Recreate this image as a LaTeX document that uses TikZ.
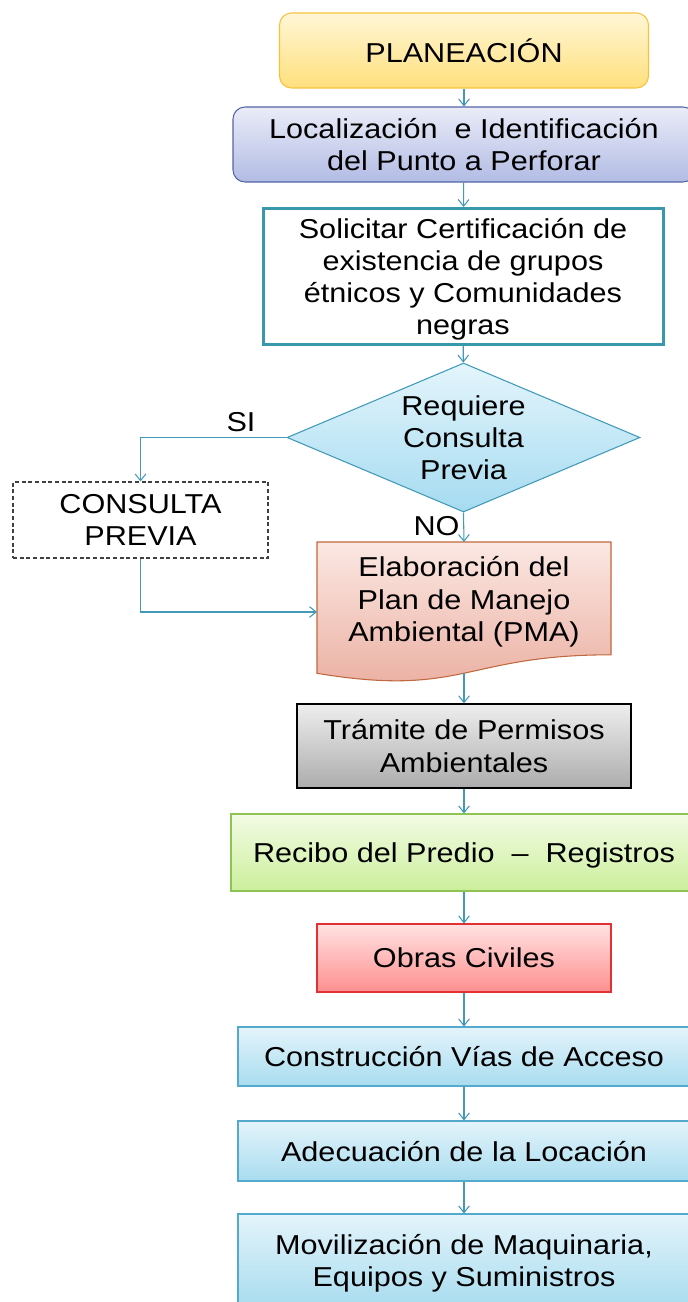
\documentclass[tikz,border=0pt]{standalone}
\usepackage{fontspec}
\setmainfont{Liberation Sans}[FakeStretch=1.12]
\usetikzlibrary{shapes.geometric,arrows.meta}

\definecolor{flowc}{RGB}{66,154,184}
\definecolor{planT}{RGB}{255,246,214}
\definecolor{planB}{RGB}{255,224,125}
\definecolor{planD}{RGB}{246,194,60}
\definecolor{locT}{RGB}{234,236,248}
\definecolor{locB}{RGB}{178,188,228}
\definecolor{locD}{RGB}{84,100,165}
\definecolor{certD}{RGB}{58,152,172}
\definecolor{decT}{RGB}{228,245,252}
\definecolor{decB}{RGB}{165,219,240}
\definecolor{pmaT}{RGB}{251,232,227}
\definecolor{pmaB}{RGB}{234,172,158}
\definecolor{pmaD}{RGB}{192,104,62}
\definecolor{tramT}{RGB}{238,238,238}
\definecolor{tramB}{RGB}{172,172,172}
\definecolor{recT}{RGB}{242,251,229}
\definecolor{recB}{RGB}{204,239,155}
\definecolor{recD}{RGB}{141,196,83}
\definecolor{obrT}{RGB}{255,226,226}
\definecolor{obrB}{RGB}{255,143,143}
\definecolor{obrD}{RGB}{224,50,50}
\definecolor{bluT}{RGB}{228,244,251}
\definecolor{bluB}{RGB}{168,220,239}
\definecolor{bluD}{RGB}{84,170,204}

\newcommand\pxu{0.75pt}

\tikzset{
  txt/.style={align=center, inner sep=0pt, text depth=0pt, font=\fontsize{20.5}{24.2}\selectfont},
  flow/.style={draw=flowc, line width=0.8pt, -{Straight Barb[length=5pt,width=8pt]}},
  bluebox/.style={txt, draw=bluD, line width=0.8pt, top color=bluT, bottom color=bluB,
                  minimum width=452*\pxu},
}

\begin{document}
\begin{tikzpicture}[x=0.75pt,y=-0.75pt]
\useasboundingbox (0,0) rectangle (688,1302);

\node[txt, draw=planD, line width=0.8pt, rounded corners=9pt, top color=planT, bottom color=planB,
      minimum width=369*\pxu, minimum height=75*\pxu] (plan) at (464,50.5) {PLANEACIÓN};
\node[txt, draw=locD, line width=0.8pt, rounded corners=9pt, top color=locT, bottom color=locB,
      minimum width=462*\pxu, minimum height=75*\pxu] (loc) at (464,144.5)
      {Localización~ e Identificación\\del Punto a Perforar};
\node[txt, draw=certD, line width=2.25pt, fill=white,
      minimum width=400*\pxu, minimum height=136*\pxu] (cert) at (463,276.5)
      {Solicitar Certificación de\\existencia de grupos\\étnicos y Comunidades\\negras};
\node[txt, diamond, aspect=2.37, draw=flowc, line width=0.8pt, top color=decT, bottom color=decB,
      minimum width=353*\pxu, minimum height=149*\pxu] (dec) at (463.5,437.5)
      {Requiere\\Consulta\\Previa};

\node[txt] (si) at (241,422) {SI};
\node[txt] (no) at (436.5,526) {NO};

\node[txt, draw=black!75, dashed, dash pattern=on 3pt off 2pt, line width=0.8pt, fill=white,
      minimum width=255*\pxu, minimum height=76*\pxu] (consulta) at (140.5,520)
      {CONSULTA\\PREVIA};

% documento PMA
\draw[draw=pmaD, line width=0.8pt, top color=pmaT, bottom color=pmaB]
  (317,542) -- (611,542) -- (611,654.8) .. controls (464,654.8) and (464,697.7) .. (317,673.3) -- cycle;
\node[txt] (pma) at (464,599) {Elaboración del\\Plan de Manejo\\Ambiental (PMA)};
\coordinate (pmain) at (317,612);
\coordinate (pmatop) at (464,542);
\coordinate (pmaout) at (464,673);

\node[txt, draw=black, line width=1pt, top color=tramT, bottom color=tramB,
      minimum width=334*\pxu, minimum height=84*\pxu] (tram) at (464,746)
      {Trámite de Permisos\\Ambientales};
\node[txt, draw=recD, line width=0.8pt, top color=recT, bottom color=recB,
      minimum width=466*\pxu, minimum height=77*\pxu] (rec) at (464,852.5)
      {Recibo del Predio~ –~ Registros};
\node[txt, draw=obrD, line width=0.8pt, top color=obrT, bottom color=obrB,
      minimum width=294*\pxu, minimum height=68*\pxu] (obras) at (464,958)
      {Obras Civiles};

\node[bluebox, minimum height=59*\pxu] (vias) at (464,1056.5) {Construcción Vías de Acceso};
\node[bluebox, minimum height=60*\pxu] (adec) at (464,1151) {Adecuación de la Locación};
\node[bluebox, minimum height=93*\pxu] (movil) at (464,1260.5)
      {Movilización de Maquinaria,\\Equipos y Suministros};

\draw[flow] (plan) -- (loc);
\draw[flow] (loc) -- (cert);
\draw[flow] (cert) -- (dec);
\draw[flow] (dec.west) -| (consulta.north);
\draw[flow] (dec.south) -- (pmatop);
\draw[flow] (consulta.south) |- (pmain);
\draw[flow] (pmaout) -- (tram.north);
\draw[flow] (tram) -- (rec);
\draw[flow] (rec) -- (obras);
\draw[flow] (obras) -- (vias);
\draw[flow] (vias) -- (adec);
\draw[flow] (adec) -- (movil);

\end{tikzpicture}
\end{document}
